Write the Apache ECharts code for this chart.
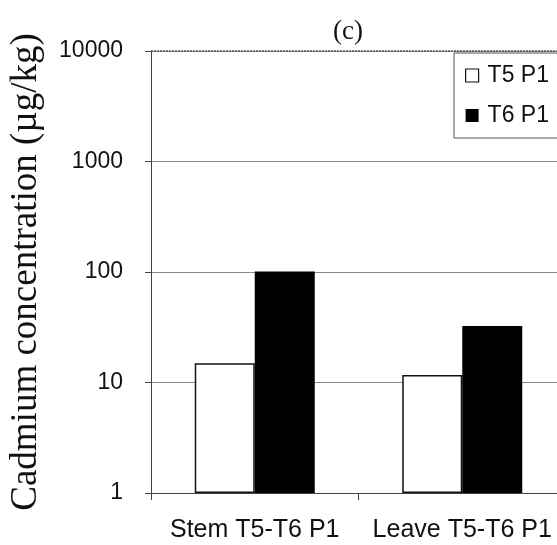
<!DOCTYPE html>
<html>
<head>
<meta charset="utf-8">
<script src="https://cdn.jsdelivr.net/npm/echarts@6/dist/echarts.min.js"></script>
<style>
html,body{margin:0;padding:0;background:#fff;overflow:hidden;width:557px;height:545px;}
#c{width:580px;height:545px;}
</style>
</head>
<body>
<div id="c"></div>
<script>
const categories = ['Stem T5-T6 P1', 'Leave T5-T6 P1'];
const seriesNames = ['T5 P1', 'T6 P1'];
const t5Values = [14.9, 11.7];
const t6Values = [101, 32.5];
const yTicks = [1, 10, 100, 1000, 10000];

const chart = echarts.init(document.getElementById('c'), null, {renderer: 'canvas'});
const sans = 'Liberation Sans, Arial, sans-serif';
const serif = 'Liberation Serif, Times New Roman, serif';
chart.setOption({
  animation: false,
  backgroundColor: '#fff',
  title: {
    text: '(c)', left: 343, top: 13, textAlign: 'center',
    textStyle: {fontFamily: serif, fontSize: 27, fontWeight: 'normal', color: '#111'}
  },
  legend: {
    left: 454, top: 53, orient: 'vertical',
    padding: [11, 40, 11, 11],
    itemGap: 17, itemWidth: 13, itemHeight: 13,
    borderColor: '#555', borderWidth: 1,
    textStyle: {fontFamily: sans, fontSize: 23, color: '#111', padding: [0, 0, 0, 4]},
    data: [
      {name: seriesNames[0], icon: 'rect', itemStyle: {color: '#fff', borderColor: '#111', borderWidth: 1.2}},
      {name: seriesNames[1], icon: 'rect', itemStyle: {color: '#000', borderWidth: 0}}
    ]
  },
  grid: {left: 148, top: 51, right: 14, bottom: 52},
  xAxis: {
    type: 'category', data: categories,
    axisLine: {lineStyle: {color: '#444', width: 1}},
    axisTick: {show: true, length: 7, lineStyle: {color: '#444'}},
    axisLabel: {fontFamily: sans, fontSize: 25, color: '#111', margin: 25, interval: 0}
  },
  yAxis: {
    type: 'log', logBase: 10, min: yTicks[0], max: yTicks[yTicks.length - 1],
    name: 'Cadmium concentration (\u00b5g/kg)',
    nameLocation: 'middle', nameGap: 106,
    nameTextStyle: {fontFamily: serif, fontSize: 37, color: '#111'},
    axisLine: {show: true, lineStyle: {color: '#444', width: 1}},
    axisTick: {show: true, length: 6, lineStyle: {color: '#444'}},
    axisLabel: {fontFamily: sans, fontSize: 23, color: '#111', margin: 28,
      formatter: function (v) { return String(v); }},
    splitLine: {show: true, lineStyle: {color: '#8a8a8a', width: 1}},
    minorTick: {show: false}
  },
  series: [
    {
      name: seriesNames[0], type: 'bar', data: t5Values,
      barWidth: 60, barGap: '0%',
      itemStyle: {color: '#fff', borderColor: '#111', borderWidth: 1.5},
      markLine: {
        silent: true, symbol: 'none', label: {show: false},
        lineStyle: {color: '#555', type: [2, 1], width: 1.5},
        data: [{yAxis: yTicks[yTicks.length - 1]}]
      }
    },
    {
      name: seriesNames[1], type: 'bar', data: t6Values,
      barWidth: 60,
      itemStyle: {color: '#000'}
    }
  ]
});
</script>
</body>
</html>
